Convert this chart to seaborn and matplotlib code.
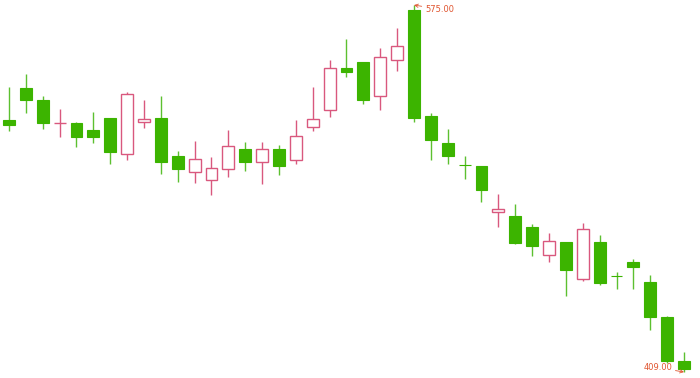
import matplotlib
matplotlib.use("Agg")
import matplotlib.pyplot as plt
import seaborn as sns
import numpy as np
import pandas as pd

# OHLC data
opens = [523.0, 537.5, 532.0, 521.5, 521.6, 518.5, 523.9, 507.6, 522.1, 523.9,
         506.7, 499.5, 495.8, 500.8, 509.9, 504.0, 509.9, 504.9, 519.8, 527.5,
         546.5, 549.2, 533.8, 550.1, 572.7, 524.8, 512.6, 502.7, 502.2, 481.4,
         479.6, 474.6, 461.9, 467.8, 451.1, 467.8, 452.5, 458.7, 449.7, 433.9,
         414.0]
highs = [537.9, 543.8, 533.8, 528.0, 522.1, 526.6, 524.0, 535.6, 532.0, 533.8,
         509.0, 513.5, 506.2, 518.5, 513.0, 513.0, 511.7, 523.0, 537.9, 550.1,
         559.6, 549.4, 555.5, 564.6, 575.0, 526.1, 518.9, 506.7, 502.4, 489.5,
         485.0, 476.0, 471.9, 468.0, 476.4, 471.0, 454.2, 460.1, 452.9, 434.3,
         418.0]
lows = [518.0, 526.1, 518.9, 515.3, 510.8, 512.6, 503.1, 504.9, 519.4, 498.6,
        494.9, 494.5, 489.1, 497.2, 499.9, 494.0, 498.1, 503.1, 518.0, 524.3,
        542.4, 530.2, 527.5, 545.1, 522.1, 504.9, 503.1, 496.3, 485.9, 474.6,
        466.9, 461.5, 458.7, 443.4, 450.2, 448.4, 446.5, 446.5, 428.0, 413.1,
        409.0]
closes = [520.7, 532.0, 521.6, 521.7, 515.3, 515.3, 508.5, 534.7, 523.4, 504.0,
          500.8, 505.3, 501.3, 511.2, 504.0, 509.9, 502.2, 515.7, 523.4, 546.5,
          544.7, 532.0, 551.5, 556.5, 523.9, 513.9, 506.7, 502.5, 491.3, 482.7,
          467.4, 466.0, 468.3, 455.1, 473.7, 449.3, 452.3, 456.5, 433.9, 414.0,
          410.4]
max_label = "575.00"
min_label = "409.00"

df = pd.DataFrame({"open": opens, "high": highs, "low": lows, "close": closes})
df["idx"] = np.arange(len(df))
df["up"] = df["close"] >= df["open"]

GREEN = "#3cb400"
GREEN_WICK = "#5cc030"
PINK = "#d9587e"
LABEL = "#e05530"

sns.set_theme(style="white")
fig = plt.figure(figsize=(7.0, 3.78), dpi=100)
ax = fig.add_axes([0, 0, 1, 1])

up = df[df["up"]]
dn = df[~df["up"]]

# wicks
ax.vlines(up["idx"], up["low"], up["high"], color=PINK, linewidth=1.0, zorder=1)
ax.vlines(dn["idx"], dn["low"], dn["high"], color=GREEN_WICK, linewidth=1.0, zorder=1)

W = 0.7
# up bodies: white with pink outline
hb = (up["close"] - up["open"]).clip(lower=0.3)
ax.bar(up["idx"], hb, bottom=up["open"], width=W, color="white",
       edgecolor=PINK, linewidth=1.0, zorder=2)
# down bodies: green filled
hd = (dn["open"] - dn["close"]).clip(lower=0.3)
ax.bar(dn["idx"], hd, bottom=dn["close"], width=W, color=GREEN,
       edgecolor=GREEN, linewidth=0.8, zorder=2)

ax.set_xlim(-0.533, 40.948)
ax.set_ylim(406.3, 577.3)
ax.axis("off")

imax = int(df["high"].idxmax())
imin = int(df["low"].idxmin())
ax.annotate(max_label, xy=(imax, df["high"][imax]), xytext=(imax + 0.65, df["high"][imax] - 1.8),
            color=LABEL, fontsize=6, va="center", ha="left",
            arrowprops=dict(arrowstyle="->", color=LABEL, lw=0.6, shrinkA=0, shrinkB=0))
ax.annotate(min_label, xy=(imin, df["low"][imin]), xytext=(imin - 0.7, df["low"][imin] + 2.0),
            color=LABEL, fontsize=6, va="center", ha="right",
            arrowprops=dict(arrowstyle="->", color=LABEL, lw=0.6, shrinkA=0, shrinkB=0))

fig.savefig("out.png", dpi=100)
